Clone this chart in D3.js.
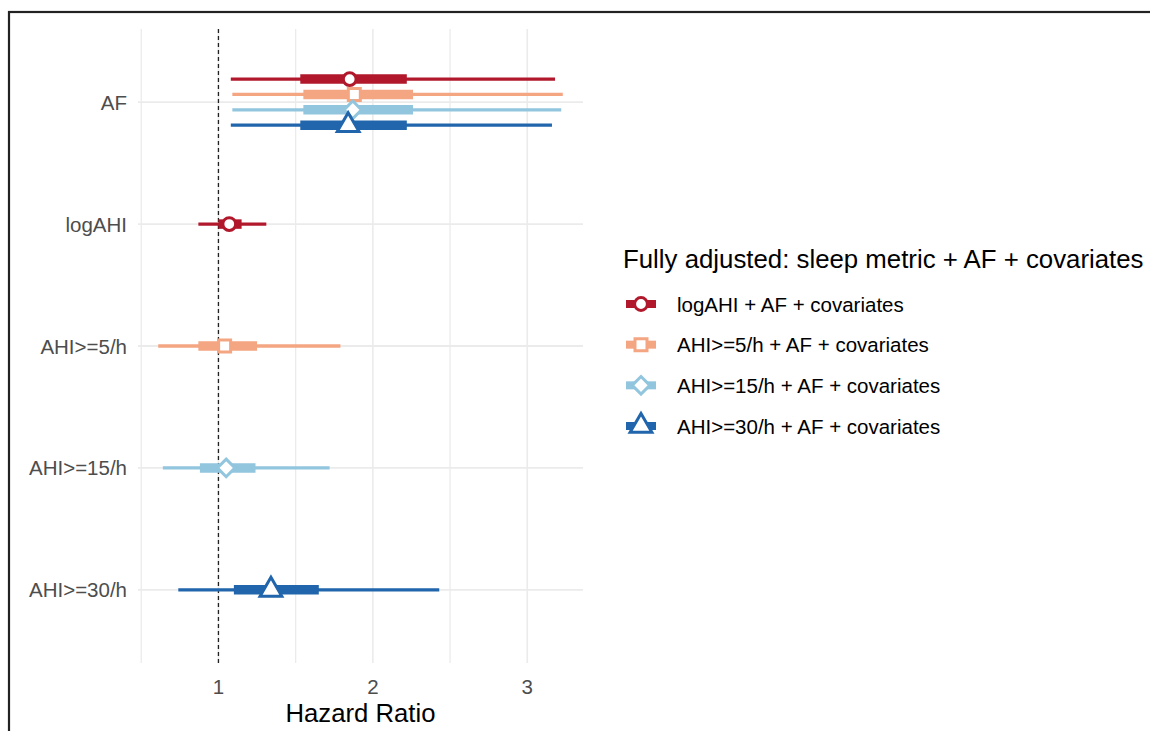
<!DOCTYPE html>
<html>
<head>
<meta charset="utf-8">
<script src="https://cdn.jsdelivr.net/npm/d3@7"></script>
<style>
  html, body { margin: 0; padding: 0; background: #fff; }
  svg { display: block; font-family: "Liberation Sans", Arial, sans-serif; }
</style>
</head>
<body>
<svg id="chart" width="1150" height="731"></svg>
<script>
// ---- data ----
const categories = ["AF", "logAHI", "AHI>=5/h", "AHI>=15/h", "AHI>=30/h"];
const models = ["logAHI + AF + covariates", "AHI>=5/h + AF + covariates", "AHI>=15/h + AF + covariates", "AHI>=30/h + AF + covariates"];
const modelColors = ["#B2182B", "#F4A582", "#92C5DE", "#2166AC"];
const modelShapes = ["circle", "square", "diamond", "triangle"];
const xTicks = [1, 2, 3];
const legendTitle = "Fully adjusted: sleep metric + AF + covariates";
const xTitle = "Hazard Ratio";

// one entry per estimate
const rowTerm  = ["AF", "AF", "AF", "AF", "logAHI", "AHI>=5/h", "AHI>=15/h", "AHI>=30/h"];
const rowModel = [0, 1, 2, 3, 0, 1, 2, 3];
const estimate = [1.85, 1.88, 1.87, 1.84, 1.07, 1.04, 1.05, 1.34];
const lower95  = [1.08, 1.09, 1.09, 1.08, 0.87, 0.61, 0.64, 0.74];
const upper95  = [3.18, 3.23, 3.22, 3.16, 1.31, 1.79, 1.72, 2.43];
const lowerIn  = [1.53, 1.55, 1.55, 1.53, 1.00, 0.87, 0.88, 1.10];
const upperIn  = [2.22, 2.26, 2.26, 2.22, 1.15, 1.25, 1.24, 1.65];

const rows = rowTerm.map((t, i) => ({
  term: t, model: rowModel[i], est: estimate[i],
  lo: lower95[i], hi: upper95[i], loIn: lowerIn[i], hiIn: upperIn[i]
}));

// ---- layout ----
const svg = d3.select("#chart");
const panel = { left: 138, right: 583, top: 29, bottom: 663 };

const xmin = d3.min(rows, d => d.lo), xmax = d3.max(rows, d => d.hi);
const pad = (xmax - xmin) * 0.05;
const x = d3.scaleLinear().domain([xmin - pad, xmax + pad]).range([panel.left, panel.right]);
const y = d3.scalePoint().domain(categories).range([panel.top, panel.bottom]).padding(0.6);

// dodge within each category
const dodgeStep = y.step() * 0.126;
rows.forEach(r => {
  const grp = rows.filter(o => o.term === r.term);
  const k = grp.indexOf(r);
  r.y = y(r.term) + (k - (grp.length - 1) / 2) * dodgeStep;
});

// frame
svg.append("rect").attr("x", 9).attr("y", 12).attr("width", 1200).attr("height", 800)
  .attr("fill", "none").attr("stroke", "#222").attr("stroke-width", 2.2);

// grid
const g = svg.append("g");
const [d0, d1] = x.domain();
const minorTicks = d3.range(Math.ceil(d0 * 2) / 2, d1, 0.5).filter(v => !xTicks.includes(v));
g.selectAll(".minor").data(minorTicks).join("line")
  .attr("x1", d => x(d)).attr("x2", d => x(d)).attr("y1", panel.top).attr("y2", panel.bottom)
  .attr("stroke", "#EBEBEB").attr("stroke-width", 1.3);
g.selectAll(".major").data(xTicks).join("line")
  .attr("x1", d => x(d)).attr("x2", d => x(d)).attr("y1", panel.top).attr("y2", panel.bottom)
  .attr("stroke", "#EBEBEB").attr("stroke-width", 1.6);
g.selectAll(".hgrid").data(categories).join("line")
  .attr("x1", panel.left).attr("x2", panel.right).attr("y1", d => y(d)).attr("y2", d => y(d))
  .attr("stroke", "#EBEBEB").attr("stroke-width", 1.8);

// reference line
svg.append("line").attr("x1", x(1)).attr("x2", x(1)).attr("y1", panel.top).attr("y2", panel.bottom)
  .attr("stroke", "#222").attr("stroke-width", 1.3).attr("stroke-dasharray", "4,3");

// ranges
svg.append("g").selectAll("line").data(rows).join("line")
  .attr("x1", d => x(d.lo)).attr("x2", d => x(d.hi)).attr("y1", d => d.y).attr("y2", d => d.y)
  .attr("stroke", d => modelColors[d.model]).attr("stroke-width", 3.3);
svg.append("g").selectAll("line").data(rows).join("line")
  .attr("x1", d => x(d.loIn)).attr("x2", d => x(d.hiIn)).attr("y1", d => d.y).attr("y2", d => d.y)
  .attr("stroke", d => modelColors[d.model]).attr("stroke-width", 9.5);

function shapePath(shape) {
  if (shape === "circle") return d3.symbol(d3.symbolCircle, Math.PI * 6.4 * 6.4)();
  if (shape === "square") return d3.symbol(d3.symbolSquare, 12 * 12)();
  if (shape === "diamond") return "M0,-8.8L8.8,0L0,8.8L-8.8,0Z";
  return d3.symbol(d3.symbolTriangle, 205)();
}

svg.append("g").selectAll("path").data(rows).join("path")
  .attr("transform", d => `translate(${x(d.est)},${d.y})`)
  .attr("d", d => shapePath(modelShapes[d.model]))
  .attr("fill", "#fff").attr("stroke", d => modelColors[d.model]).attr("stroke-width", 3)
  .attr("stroke-linejoin", "miter");

// axes text
svg.append("g").selectAll("text").data(categories).join("text")
  .attr("x", 127).attr("y", d => y(d)).attr("text-anchor", "end").attr("dominant-baseline", "central")
  .attr("fill", "#4D4D4D").attr("font-size", 20.5).text(d => d);
svg.append("g").selectAll("text").data(xTicks).join("text")
  .attr("x", d => x(d)).attr("y", 686).attr("text-anchor", "middle").attr("dominant-baseline", "central")
  .attr("fill", "#4D4D4D").attr("font-size", 20.5).text(d => d);
svg.append("text").attr("x", (panel.left + panel.right) / 2).attr("y", 713)
  .attr("text-anchor", "middle").attr("dominant-baseline", "central")
  .attr("fill", "#000").attr("font-size", 25.7).text(xTitle);

// legend
const lg = svg.append("g");
lg.append("text").attr("x", 623).attr("y", 259).attr("dominant-baseline", "central")
  .attr("fill", "#000").attr("font-size", 25.8).text(legendTitle);
const legendY = d3.scalePoint().domain(d3.range(models.length)).range([304, 426]);
const items = lg.selectAll("g.item").data(models).join("g")
  .attr("transform", (d, i) => `translate(641,${legendY(i)})`);
items.append("line").attr("x1", -15).attr("x2", 15).attr("y1", 0).attr("y2", 0)
  .attr("stroke", (d, i) => modelColors[i]).attr("stroke-width", 8);
items.append("path").attr("d", (d, i) => shapePath(modelShapes[i]))
  .attr("fill", "#fff").attr("stroke", (d, i) => modelColors[i]).attr("stroke-width", 3);
items.append("text").attr("x", 36).attr("y", 0).attr("dominant-baseline", "central")
  .attr("fill", "#000").attr("font-size", 20.5).text(d => d);
</script>
</body>
</html>
